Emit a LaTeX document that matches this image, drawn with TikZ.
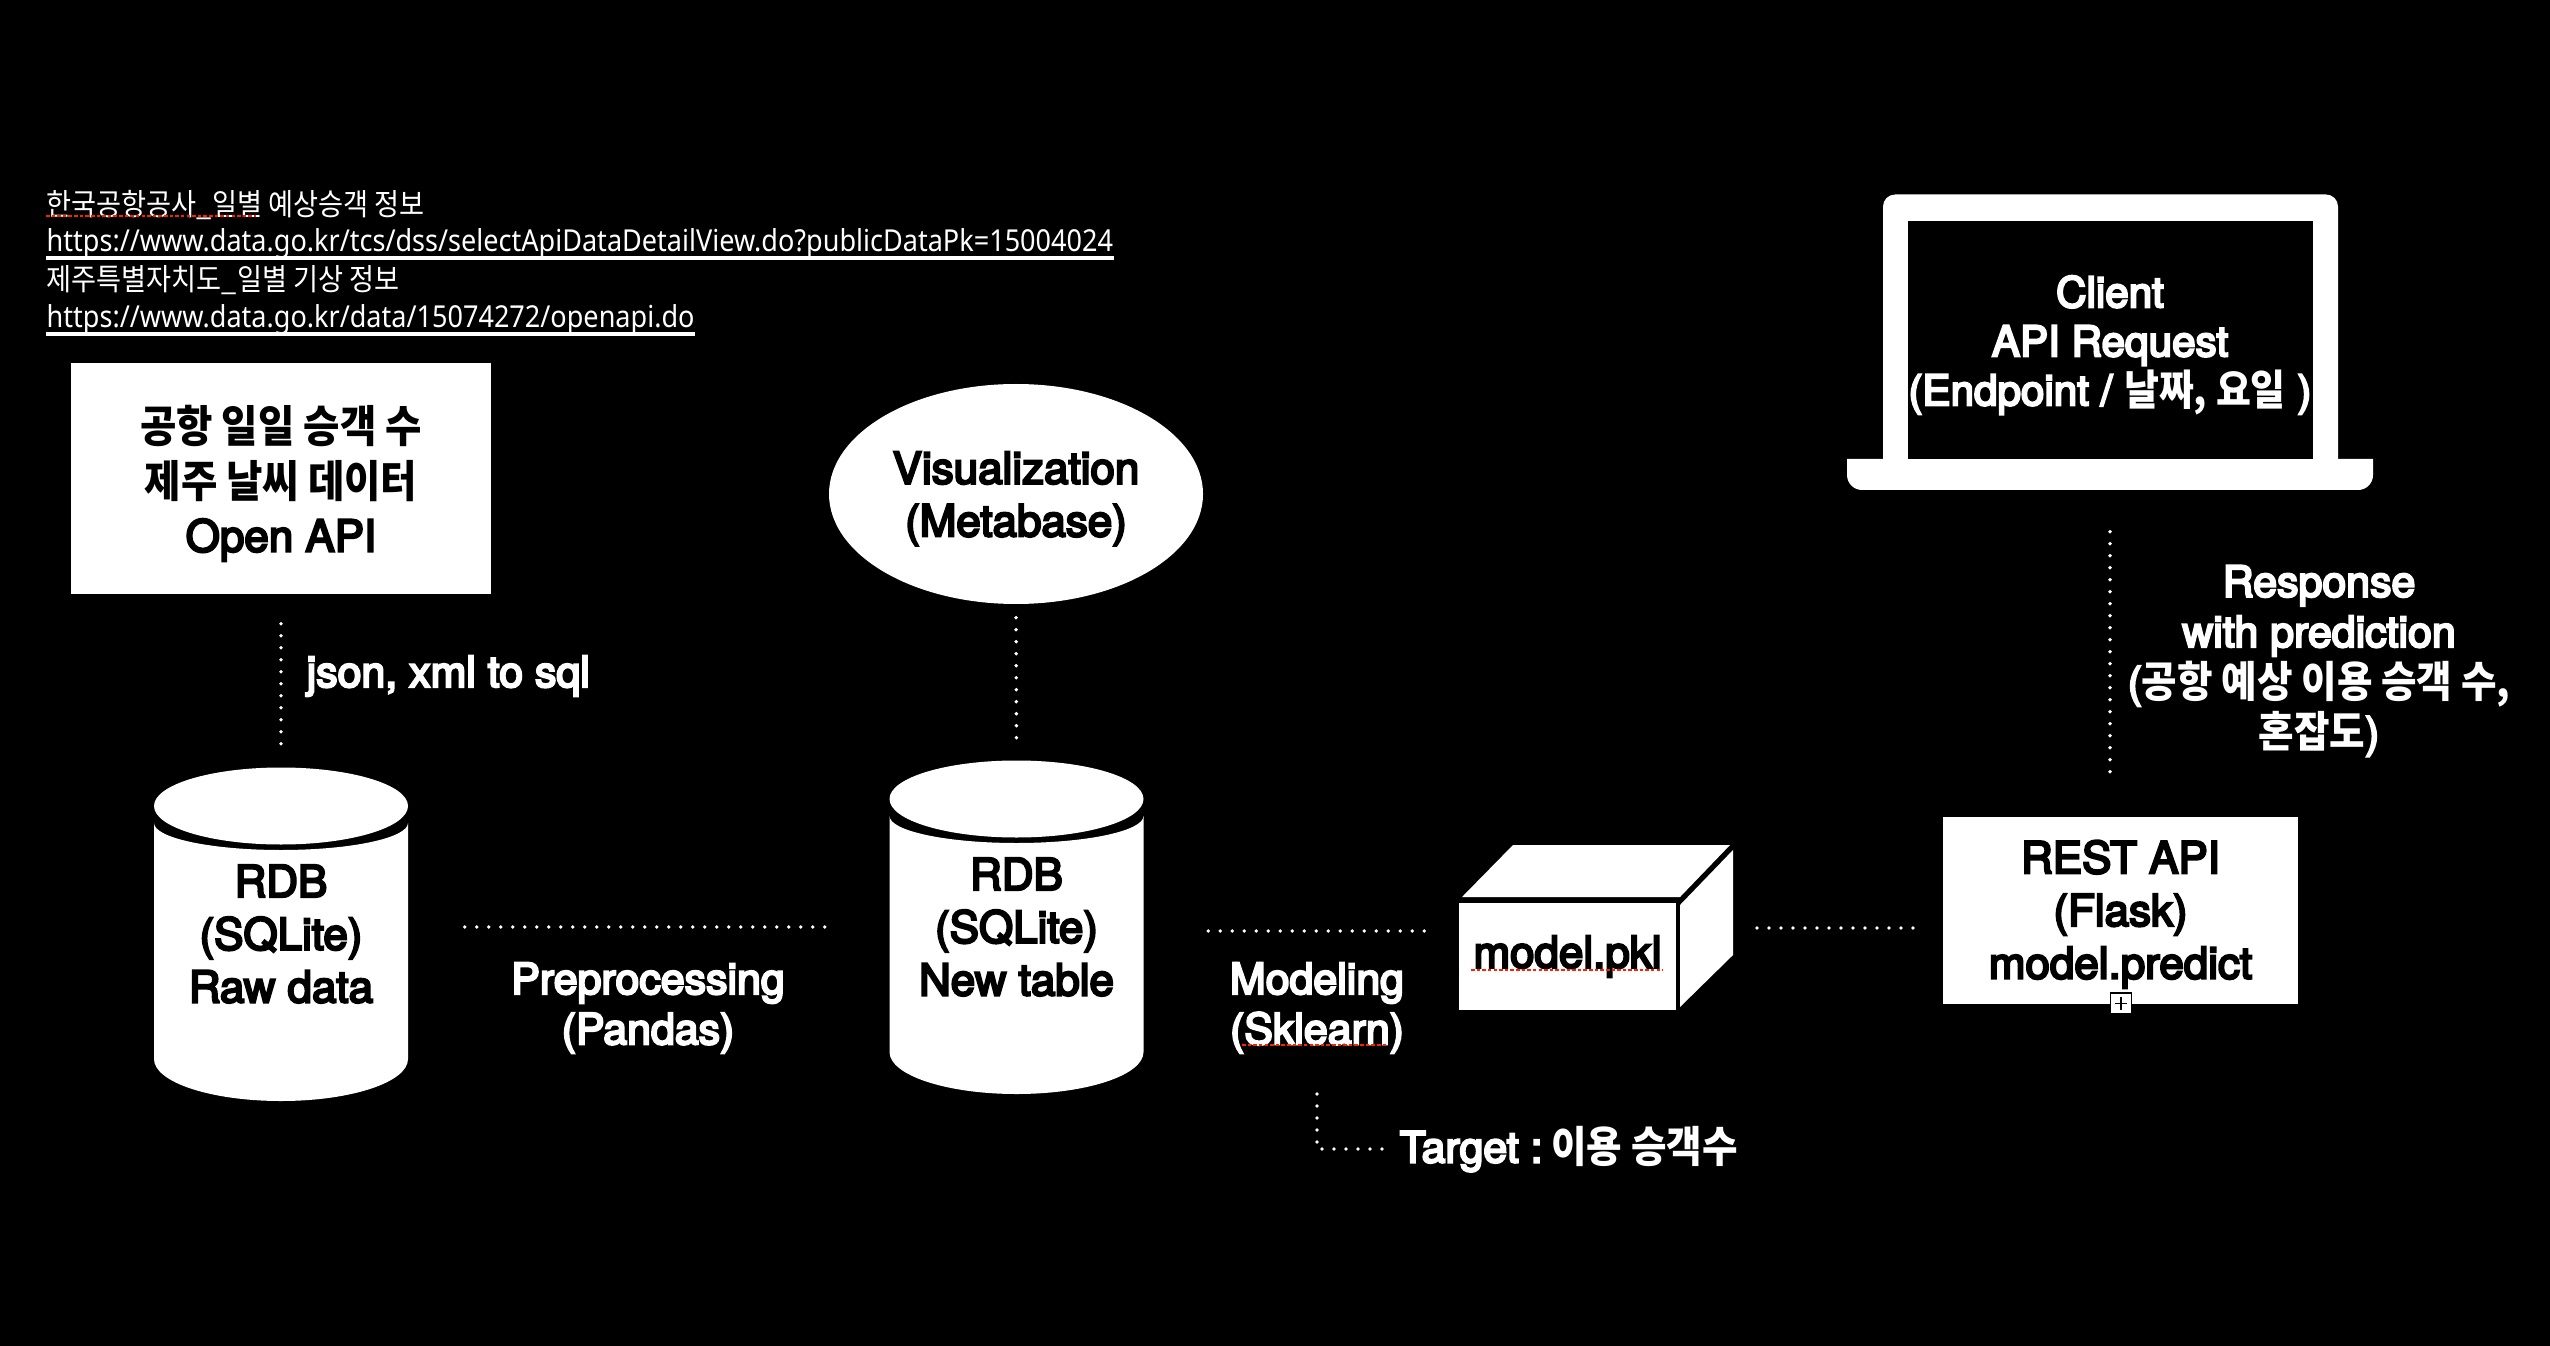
\documentclass[tikz,border=0pt]{standalone}
\usepackage{fontspec}
\setmainfont{TeX Gyre Heros}
\newfontfamily\medfont[FakeBold=5]{TeX Gyre Heros}
\newfontfamily\smallfont[FakeStretch=0.895]{Noto Sans}
\newfontfamily\kofont[FakeStretch=0.9]{Noto Sans CJK KR}
\newcommand{\ko}[1]{{\kofont\bfseries #1}}
\usetikzlibrary{arrows.meta, positioning, calc, shapes.geometric}

% cylinder drawn round a named text node
\newcommand{\dbnode}[3]{
  \begin{scope}[shift={(#2)}]
    \fill[white] (0,1.28) ellipse[x radius=1.27, y radius=0.385];
    \fill[white] (-1.27,1.11) arc[start angle=180, end angle=360, x radius=1.27, y radius=0.27]
      -- (1.27,-1.25) arc[start angle=0, end angle=-180, x radius=1.27, y radius=0.42] -- cycle;
  \end{scope}
  \node[onwhite, minimum width=2.54cm, minimum height=3.34cm] (#1) at (#2) {#3};
}

\begin{document}
\begin{tikzpicture}[
  every node/.style = {inner sep=0pt, align=center},
  onwhite/.style = {text=black, font=\medfont\fontsize{12.5}{15}\selectfont},
  onblack/.style = {text=white, font=\medfont\fontsize{12.2}{14.3}\selectfont},
  whitebox/.style = {onwhite, fill=white},
  srctext/.style = {text=white, anchor=base west, font=\smallfont\fontsize{8.6}{10}\selectfont},
  dotline/.style = {white, line width=1.1pt, line cap=round, dash pattern=on 0pt off 0.12cm},
  spellmark/.style = {draw=red!75!orange, line width=0.8pt, dash pattern=on 1pt off 0.6pt}
]

% Background and page size
\useasboundingbox (0,0) rectangle (25.5,-13.46);
\fill[black] (0,0) rectangle (25.5,-13.46);

% Data sources
\node[srctext] (srcairport) at (0.46,-2.16) {{\kofont 한국공항공사\_일별 예상승객 정보}};
\node[srctext] (urlairport) at (0.46,-2.52) {https://www.data.go.kr/tcs/dss/selectApiDataDetailView.do?publicDataPk=15004024};
\node[srctext] (srcweather) at (0.46,-2.91) {{\kofont 제주특별자치도\_일별 기상 정보}};
\node[srctext] (urlweather) at (0.46,-3.28) {https://www.data.go.kr/data/15074272/openapi.do};
\draw[white, line width=1.1pt] ([yshift=-0.06cm]urlairport.base west) -- ([yshift=-0.06cm]urlairport.base east);
\draw[white, line width=1.1pt] ([yshift=-0.06cm]urlweather.base west) -- ([yshift=-0.06cm]urlweather.base east);

% Left column
\node[whitebox, minimum width=4.2cm, minimum height=2.31cm, text depth=0pt, font=\medfont\fontsize{12.5}{15.5}\selectfont] (openapi) at (2.81,-4.785)
  {\ko{공항 일일 승객 수}\\\ko{제주 날씨 데이터}\\Open API};
\dbnode{dbraw}{2.81,-9.34}{RDB\\(SQLite)\\Raw data}
\node[onblack, anchor=west] (jsonlabel) at (3.06,-6.76) {json, xml to sql};

% Middle column
\node[whitebox, ellipse, minimum width=3.74cm, minimum height=2.2cm, text depth=0pt] (metabase) at (10.16,-4.94)
  {Visualization\\(Metabase)};
\dbnode{dbnew}{10.165,-9.27}{RDB\\(SQLite)\\New table}
\node[onblack] (preplabel) at (6.48,-10.08) {Preprocessing\\(Pandas)};

% Model cube
\fill[white] (14.62,-8.97) -- (15.13,-8.45) -- (17.30,-8.45) -- (16.80,-8.97) -- cycle;
\fill[white] (16.80,-9.05) -- (17.33,-8.50) -- (17.33,-9.55) -- (16.80,-10.07) -- cycle;
\node[whitebox, minimum width=2.17cm, minimum height=1.07cm] (modelpkl) at (15.675,-9.565) {model.pkl};
\coordinate (pklleft) at (14.28,-9.31);
\coordinate (pklright) at (17.33,-9.28);
\node[onblack] (modellabel) at (13.17,-10.08) {Modeling\\(Sklearn)};
\node[onblack, anchor=west] (targetlabel) at (13.99,-11.49) {Target :\hspace{-0.07cm} \ko{이용 승객수}};

% REST server
\node[whitebox, minimum width=3.55cm, minimum height=1.87cm, text depth=0.02cm] (restapi) at (21.205,-9.105)
  {REST API\\(Flask)\\model.predict};
\node[draw=black, fill=white, line width=0.5pt, minimum size=0.21cm] (handle) at (21.21,-10.035) {};
\draw[black, line width=0.5pt, shorten <=0.05cm, shorten >=0.05cm] (handle.north) -- (handle.south);
\draw[black, line width=0.5pt, shorten <=0.05cm, shorten >=0.05cm] (handle.west) -- (handle.east);

% Client laptop
\fill[white, rounded corners=0.12cm] (18.83,-4.8) -- (18.83,-1.945) -- (23.38,-1.945) -- (23.38,-4.8) -- cycle;
\fill[white] (18.47,-4.59) {[rounded corners=0.15cm] -- (18.47,-4.90) -- (23.73,-4.90)} -- (23.73,-4.59) -- cycle;
\fill[black] (19.08,-2.21) rectangle (23.13,-4.59);
\node[onblack, minimum width=5.26cm, minimum height=2.96cm, text depth=0.03cm, font=\medfont\fontsize{12}{13.95}\selectfont] (client) at (21.1,-3.42)
  {Client\\API Request\\(Endpoint / \ko{날짜, 요일} )};
\node[onblack] (resplabel) at (23.19,-6.61) {Response\\with prediction\\(\ko{공항 예상 이용 승객 수,}\\\ko{혼잡도})};

% Dotted connectors
\draw[dotline, shorten <=0.29cm, shorten >=0.22cm] (openapi.south) -- (dbraw.north);
\draw[dotline, shorten <=0.13cm, shorten >=0.20cm] (metabase.south) -- (dbnew.north);
\draw[dotline, shorten <=0.56cm, shorten >=0.63cm] (dbraw.east |- dbnew.east) -- (dbnew.west);
\draw[dotline, shorten <=0.64cm] (dbnew.east |- pklleft) -- (pklleft);
\draw[dotline, shorten <=0.24cm, shorten >=0.27cm] (pklright) -- (pklright -| restapi.west);
\draw[dotline, shorten <=0.41cm, shorten >=0.33cm] (client.south) -- (client.south |- restapi.north);
\draw[dotline, shorten <=0.40cm, shorten >=0.17cm] (modellabel.south) |- (targetlabel.west);

% Spell check marks
\draw[spellmark] (0.46,-2.16) -- (2.56,-2.16);
\draw[spellmark] (14.71,-9.70) -- (16.63,-9.70);
\draw[spellmark] (12.42,-10.45) -- (13.88,-10.45);

\end{tikzpicture}
\end{document}
